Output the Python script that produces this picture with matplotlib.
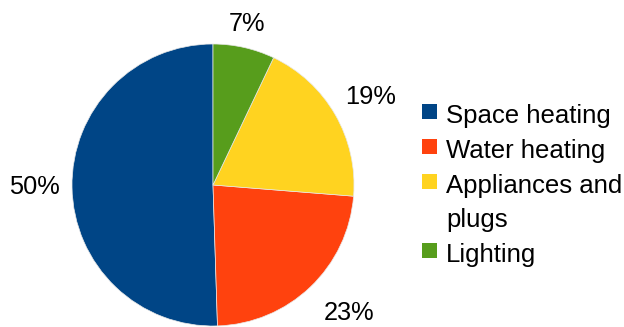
import numpy as np
import matplotlib
matplotlib.use('Agg')
import matplotlib.pyplot as plt
from matplotlib.patches import Rectangle

plt.rcParams['font.family'] = ['Liberation Sans', 'DejaVu Sans']

categories = ['Space heating', 'Water heating', 'Appliances and\nplugs', 'Lighting']
shares = [50, 23, 19, 7]
pct_labels = ['50%', '23%', '19%', '7%']
colors = ['#004586', '#ff420e', '#ffd320', '#579d1c']

W, H = 624, 327
fig = plt.figure(figsize=(W / 100, H / 100), dpi=100)

# pie centre (213, 185) px, radius 141 px
cx, cy, r = 213, 185, 141
ax = fig.add_axes([(cx - r) / W, (H - cy - r) / H, 2 * r / W, 2 * r / H])
wedges, _ = ax.pie(shares, colors=colors, startangle=90, counterclock=True,
                   wedgeprops=dict(edgecolor='#e8e8e8', linewidth=0.5))
ax.set_xlim(-1, 1)
ax.set_ylim(-1, 1)
ax.set_aspect('equal')
ax.axis('off')

# percentage labels just outside each wedge
for w, lab in zip(wedges, pct_labels):
    th = np.deg2rad((w.theta1 + w.theta2) / 2)
    c, s = np.cos(th), np.sin(th)
    ha = 'left' if c > 0.3 else ('right' if c < -0.3 else 'center')
    va = 'bottom' if s > 0.3 else ('top' if s < -0.3 else 'center')
    d = 1.08 if s > 0.3 else (1.14 if s < -0.3 else 1.09)
    ax.text(d * c, d * s, lab, ha=ha, va=va, fontsize=18.3, color='#000000')

# legend drawn by hand so the swatch sits beside the first line
base = 123
for lab, col in zip(categories, colors):
    fig.add_artist(Rectangle((422 / W, (H - base + 4) / H), 15 / W, 15 / H,
                             transform=fig.transFigure, facecolor=col,
                             edgecolor='none'))
    lines = lab.split('\n')
    for k, line in enumerate(lines):
        fig.text(446 / W, (H - base - 34 * k) / H, line, ha='left',
                 va='baseline', fontsize=18.5, color='#000000')
    base += 35 + 34 * (len(lines) - 1)

fig.savefig('out.png', dpi=100)
